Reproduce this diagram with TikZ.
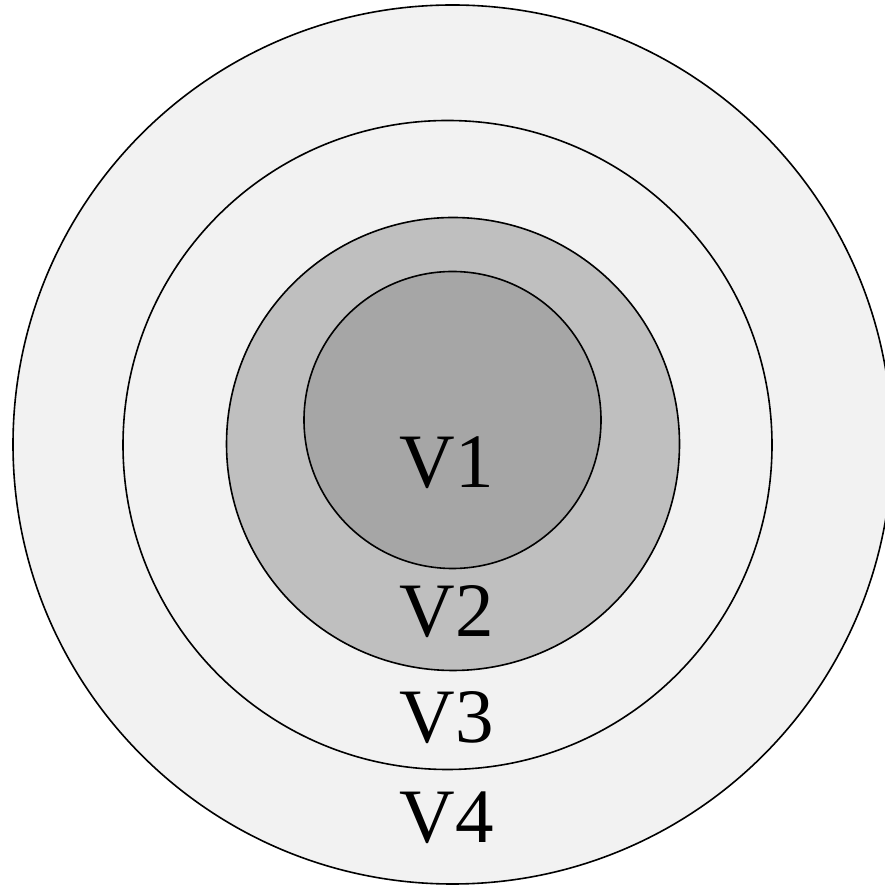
\documentclass[tikz,border=0pt]{standalone}
\usepackage{fontspec}
\setmainfont{Liberation Serif}
\definecolor{ringA}{HTML}{F2F2F2}
\definecolor{ringB}{HTML}{BFBFBF}
\definecolor{ringC}{HTML}{A6A6A6}
\begin{document}
\begin{tikzpicture}[x=1pt,y=1pt,
  ring/.style={draw=black,line width=1.6pt},
  lbl/.style={font=\fontsize{77}{80}\selectfont,inner sep=0pt,anchor=base}]
\useasboundingbox (0,0) rectangle (885,888);
\clip (0,0) rectangle (885,888);
\fill[white] (0,0) rectangle (885,888);
\draw[ring,fill=ringA] (452.5,443.5) circle (439.5);
\draw[ring,fill=ringA] (447.5,443) circle (324.5);
\draw[ring,fill=ringB] (453,444) circle (226.5);
\draw[ring,fill=ringC] (452.5,468) circle (148.5);
\node[lbl] (v1) at (447,400) {V1};
\node[lbl] (v2) at (447,251) {V2};
\node[lbl] (v3) at (447,145) {V3};
\node[lbl] (v4) at (447,45) {V4};
\end{tikzpicture}
\end{document}
